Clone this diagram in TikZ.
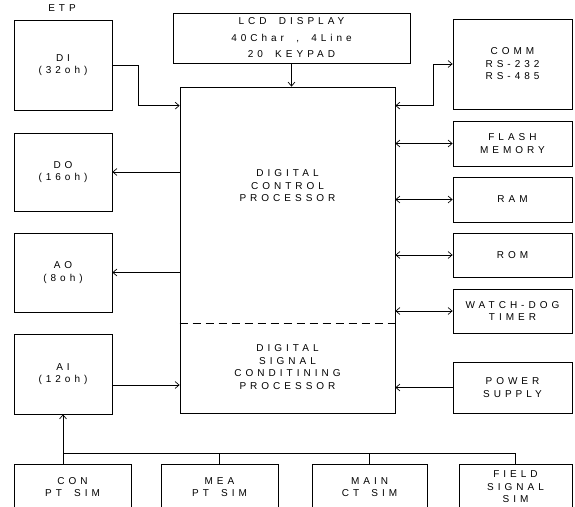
\documentclass[tikz,border=0pt]{standalone}
\usepackage{fontspec}
\setmainfont{Liberation Sans}[LetterSpace=40,WordSpace=1.8]
\usetikzlibrary{arrows.meta,positioning,calc}

\begin{document}
\begin{tikzpicture}[x=1pt,y=-1pt,line width=0.7pt,
    every node/.style={align=center,inner sep=0pt,font=\fontsize{10}{12.5}\selectfont},
    unit/.style={draw},
    arr/.style={-{Straight Barb[length=1.4mm,width=2.4mm]}},
    darr/.style={{Straight Barb[length=1.4mm,width=2.4mm]}-{Straight Barb[length=1.4mm,width=2.4mm]}}]
  \path[use as bounding box,clip] (0,0) rectangle (575,506);
  \node (etp) at (62,8) {ETP};
  \node[unit,minimum width=98pt,minimum height=90pt] (di) at (63,65) {DI\\(32oh)};
  \node[unit,minimum width=98pt,minimum height=78pt] (do) at (63,172) {DO\\(16oh)};
  \node[unit,minimum width=98pt,minimum height=79pt] (ao) at (63,272.5) {AO\\(8oh)};
  \node[unit,minimum width=98pt,minimum height=80pt] (ai) at (63,374) {AI\\(12oh)};
  \node[unit,minimum width=237pt,minimum height=50pt,font=\fontsize{10}{16.5}\selectfont] (lcd) at (291.5,38) {LCD DISPLAY\\40Char , 4Line\\20 KEYPAD};
  \node[unit,minimum width=215pt,minimum height=326pt] (dcp) at (287.5,250) {};
  \node (dcptxt) at (287.5,186) {DIGITAL\\CONTROL\\PROCESSOR};
  \node (dsptxt) at (287.5,367) {DIGITAL\\SIGNAL\\CONDITINING\\PROCESSOR};
  \draw[dashed,dash pattern=on 8pt off 5pt] (dcp.west |- 0,323) -- (dcp.east |- 0,323);
  \node[unit,minimum width=119pt,minimum height=90pt] (comm) at (512.5,64) {COMM\\RS-232\\RS-485};
  \node[unit,minimum width=119pt,minimum height=45pt] (flash) at (512.5,143.5) {FLASH\\MEMORY};
  \node[unit,minimum width=119pt,minimum height=45pt] (ram) at (512.5,199.5) {RAM};
  \node[unit,minimum width=119pt,minimum height=44pt] (rom) at (512.5,255) {ROM};
  \node[unit,minimum width=119pt,minimum height=44pt] (wdt) at (512.5,311) {WATCH-DOG\\TIMER};
  \node[unit,minimum width=119pt,minimum height=51pt] (power) at (512.5,387.5) {POWER\\SUPPLY};
  \node[unit,minimum width=117pt,minimum height=46pt] (con) at (72.5,487) {CON\\PT SIM};
  \node[unit,minimum width=117pt,minimum height=46pt] (mea) at (219.5,487) {MEA\\PT SIM};
  \node[unit,minimum width=115pt,minimum height=46pt] (ctsim) at (369.5,487) {MAIN\\CT SIM};
  \node[unit,minimum width=113pt,minimum height=46pt] (field) at (515.5,487) {FIELD\\SIGNAL\\SIM};
  \coordinate (bus) at (0,453);
  \coordinate (aiout) at ([yshift=-11pt]ai.east);
  \draw[arr] (di.east) -- ++(26,0) |- ([yshift=-19pt]dcp.north west);
  \draw[arr] (dcp.west |- do.east) -- (do.east);
  \draw[arr] (dcp.west |- ao.east) -- (ao.east);
  \draw[arr] (aiout) -- (dcp.west |- aiout);
  \draw[arr] (lcd.south) -- (lcd.south |- dcp.north);
  \draw[darr] ([yshift=-19pt]dcp.north east) -- ++(38,0) |- (comm.west);
  \draw[darr] (dcp.east |- flash.west) -- (flash.west);
  \draw[darr] (dcp.east |- ram.west) -- (ram.west);
  \draw[darr] (dcp.east |- rom.west) -- (rom.west);
  \draw[darr] (dcp.east |- wdt.west) -- (wdt.west);
  \draw[arr] (power.west) -- (dcp.east |- power.west);
  \draw[arr] (ai.south |- con.north) -- (ai.south);
  \draw (ai.south |- bus) -- (field.north |- bus) -- (field.north);
  \draw (mea.north |- bus) -- (mea.north);
  \draw (ctsim.north |- bus) -- (ctsim.north);
\end{tikzpicture}
\end{document}
